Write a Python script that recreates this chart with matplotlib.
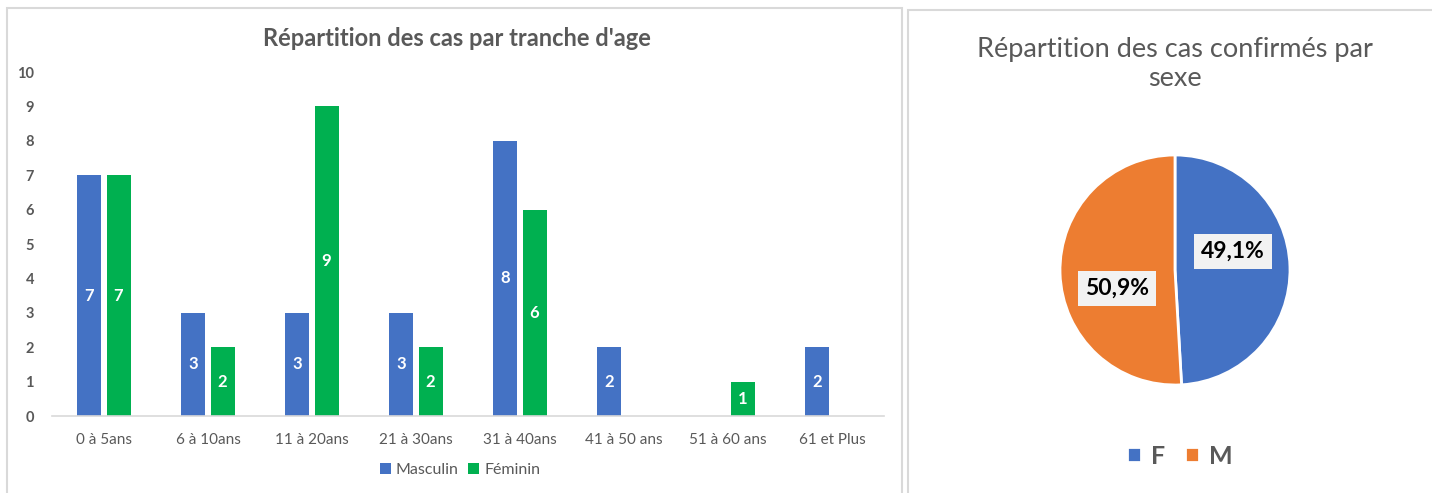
import numpy as np
import matplotlib
matplotlib.use("Agg")
import matplotlib.pyplot as plt
from matplotlib.patches import Rectangle

plt.rcParams['font.family'] = ['Lato', 'DejaVu Sans']

# Data
age_groups = ['0 à 5ans', '6 à 10ans', '11 à 20ans', '21 à 30ans',
              '31 à 40ans', '41 à 50 ans', '51 à 60 ans', '61 et Plus']
masculin = [7, 3, 3, 3, 8, 2, 0, 2]
feminin = [7, 2, 9, 2, 6, 0, 1, 0]

sexes = ['F', 'M']
sex_counts = [27, 28]

BLUE = '#4472C4'
GREEN = '#00B050'
ORANGE = '#ED7D31'
GREY_TXT = '#595959'
BORDER = '#D9D9D9'

W, H = 1432, 493
fig = plt.figure(figsize=(W / 100, H / 100), dpi=100)
fig.patch.set_facecolor('white')

# panel frames
fig.patches.append(Rectangle((7 / W, -0.01), 895 / W, (H - 8) / H + 0.01,
                             transform=fig.transFigure, fill=False,
                             edgecolor=BORDER, linewidth=1.5))
fig.patches.append(Rectangle((908 / W, -0.01), 600 / W, (H - 10) / H + 0.01,
                             transform=fig.transFigure, fill=False,
                             edgecolor=BORDER, linewidth=1.5))

# ---- bar chart ----
ax = fig.add_axes([52 / W, 77 / H, 832 / W, 344 / H])
x = np.arange(len(age_groups))
width = 0.23
off = 0.14
b1 = ax.bar(x - off, masculin, width, color=BLUE, label='Masculin')
b2 = ax.bar(x + off, feminin, width, color=GREEN, label='Féminin')

for bars, vals in ((b1, masculin), (b2, feminin)):
    labels = [str(v) if v else '' for v in vals]
    ax.bar_label(bars, labels=labels, label_type='center', color='white',
                 fontsize=12, fontweight='bold')

ax.set_xlim(-0.5, len(age_groups) - 0.5)
ax.set_ylim(0, 10)
ax.set_yticks(range(0, 11))
ax.set_xticks(x)
ax.set_xticklabels(age_groups, fontsize=11, color=GREY_TXT)
for lbl in ax.get_yticklabels():
    lbl.set_fontweight('bold')
ax.tick_params(axis='y', length=0, labelsize=10.5, labelcolor=GREY_TXT, pad=13)
ax.tick_params(axis='x', length=0, pad=12)
for s in ('top', 'right', 'left'):
    ax.spines[s].set_visible(False)
ax.spines['bottom'].set_color(BORDER)
ax.spines['bottom'].set_linewidth(1.2)

fig.text(457 / W, 1 - 38 / H, "Répartition des cas par tranche d'age",
         ha='center', va='center', fontsize=17, fontweight='bold', color=GREY_TXT)

ax.legend(loc='center', bbox_to_anchor=(460 / W, 1 - 470 / H),
          bbox_transform=fig.transFigure, ncol=2, frameon=False,
          fontsize=11.5, labelcolor=GREY_TXT, handlelength=0.7, handleheight=0.7,
          handletextpad=0.3, columnspacing=0.6)

# ---- pie chart ----
r_px = 115
cx, cy = 1175, 270
pax = fig.add_axes([(cx - r_px) / W, (H - cy - r_px) / H, 2 * r_px / W, 2 * r_px / H])
wedges, _ = pax.pie(sex_counts, colors=[BLUE, ORANGE], startangle=90,
                    counterclock=False,
                    wedgeprops=dict(edgecolor='white', linewidth=2))
pax.set_xlim(-1, 1)
pax.set_ylim(-1, 1)

total = sum(sex_counts)
for w, v in zip(wedges, sex_counts):
    mid = np.deg2rad((w.theta1 + w.theta2) / 2 + 16)
    pct = f"{100 * v / total:.1f}%".replace('.', ',')
    pax.text(0.53 * np.cos(mid), 0.53 * np.sin(mid), pct, ha='center', va='center',
             fontsize=16.5, fontweight='bold', color='black',
             bbox=dict(boxstyle='square,pad=0.3', facecolor='#F2F2F2', edgecolor='none'))

fig.text(1175 / W, 1 - 64 / H, "Répartition des cas confirmés par\nsexe",
         ha='center', va='center', fontsize=19.5, color=GREY_TXT, linespacing=1.25)

pax.legend(wedges, sexes, loc='center', bbox_to_anchor=(1180 / W, 1 - 456 / H),
           bbox_transform=fig.transFigure, ncol=2, frameon=False,
           prop=dict(size=18, weight='bold'), labelcolor=GREY_TXT,
           handlelength=0.55, handleheight=0.55, handletextpad=0.4, columnspacing=0.8)

fig.savefig('out.png', dpi=100)
